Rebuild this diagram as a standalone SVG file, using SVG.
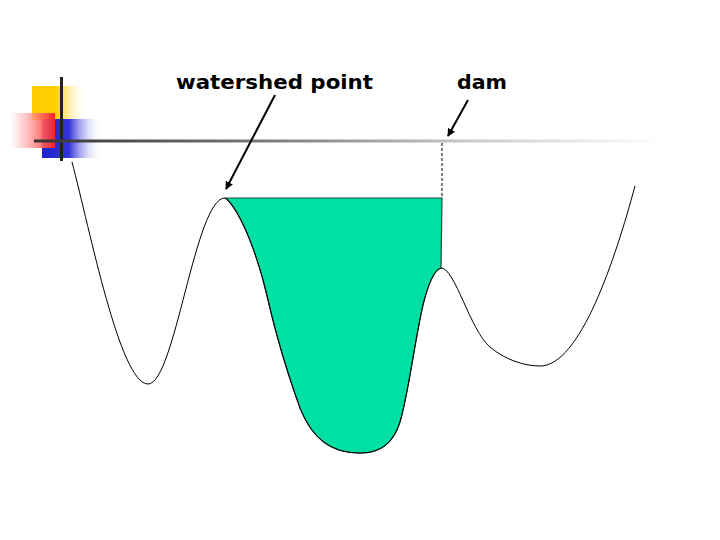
<svg xmlns="http://www.w3.org/2000/svg" width="720" height="540" viewBox="0 0 720 540">
<defs>
<linearGradient id="gy" x1="0" y1="0" x2="1" y2="0"><stop offset="0" stop-color="#FFCC00"/><stop offset="0.45" stop-color="#FFD000"/><stop offset="1" stop-color="#FFFFFF" stop-opacity="0"/></linearGradient>
<linearGradient id="gr" x1="0" y1="0" x2="1" y2="0"><stop offset="0" stop-color="#FFFFFF" stop-opacity="0.6"/><stop offset="1" stop-color="#FF2020"/></linearGradient>
<linearGradient id="gb" x1="0" y1="0" x2="1" y2="0"><stop offset="0" stop-color="#2020CC"/><stop offset="0.45" stop-color="#3333DD"/><stop offset="1" stop-color="#FFFFFF" stop-opacity="0"/></linearGradient>
<linearGradient id="gl" x1="0" y1="0" x2="1" y2="0"><stop offset="0" stop-color="#333333"/><stop offset="0.35" stop-color="#777777"/><stop offset="0.7" stop-color="#CCCCCC"/><stop offset="1" stop-color="#FFFFFF"/></linearGradient>
<marker id="ah" viewBox="0 0 10 10" refX="9" refY="5" markerWidth="8" markerHeight="8" orient="auto" markerUnits="userSpaceOnUse"><path d="M0,0 L10,5 L0,10 z" fill="#000"/></marker>
<style>
.lbl{font-family:"DejaVu Sans",Verdana,sans-serif;font-weight:bold;font-size:19px;fill:#000}
.ar{stroke:#000;stroke-width:2;fill:none;marker-end:url(#ah)}
</style>
</defs>
<rect width="720" height="540" fill="#fff"/>
<g id="logo">
<rect x="32" y="86" width="55" height="34" fill="url(#gy)"/>
<rect x="42" y="119" width="60" height="39" fill="url(#gb)"/>
<rect x="10" y="113" width="45" height="35" fill="url(#gr)"/>
<rect x="60" y="77" width="3" height="84" fill="#222"/>
</g>
<rect id="hline" x="34" y="139.5" width="632" height="3" fill="url(#gl)"/>
<g id="basin">
<path d="M226,198 L442,198 L441,268 C434,270 428,285 423,305 C415,340 408,395 400,422 C393,444 380,453 360,453 C330,453 312,438 300,408 C288,375 276,335 268,300 C258,255 240,210 226,198 Z" fill="#00E0A4" stroke="#1a4a3a" stroke-width="1.2"/>
</g>
<g id="curve">
<path d="M72,162 C90,230 120,384 148,384 C175,384 195,198 225,198 C240,210 258,255 268,300 C276,335 288,375 300,408 C312,438 330,453 360,453 C380,453 393,444 400,422 C408,395 415,340 423,305 C428,285 434,270 441,268 C455,268 470,330 490,347 C505,360 525,366 540,366 C580,366 615,260 635,186" fill="none" stroke="#000" stroke-width="1"/>
</g>
<g id="connectors">
<line x1="442" y1="143" x2="442" y2="198" stroke="#000" stroke-width="1" stroke-dasharray="3,2"/>
<line class="ar" x1="275" y1="95" x2="226" y2="189"/>
<line class="ar" x1="468" y1="100" x2="448" y2="136"/>
</g>
<g id="labels">
<text class="lbl" x="176" y="89" textLength="197" lengthAdjust="spacingAndGlyphs">watershed point</text>
<text class="lbl" x="457" y="89" textLength="50" lengthAdjust="spacingAndGlyphs">dam</text>
</g>
</svg>
